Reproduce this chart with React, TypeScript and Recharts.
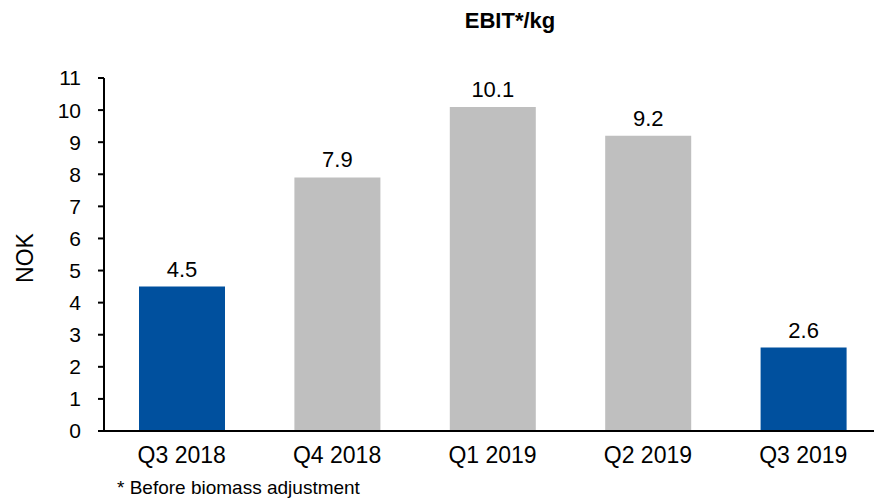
import { Bar, BarChart, Cell, LabelList, XAxis, YAxis } from "recharts";

const quarters = ["Q3 2018", "Q4 2018", "Q1 2019", "Q2 2019", "Q3 2019"];
const ebitPerKg = [4.5, 7.9, 10.1, 9.2, 2.6];
const barColors = ["#00509E", "#BFBFBF", "#BFBFBF", "#BFBFBF", "#00509E"];
const yTicks = [0, 1, 2, 3, 4, 5, 6, 7, 8, 9, 10, 11];

const data = quarters.map((q, i) => ({ quarter: q, value: ebitPerKg[i] }));

const font = "'Liberation Sans', Arial, sans-serif";

export default function App() {
  return (
    <div
      style={{
        position: "absolute",
        left: 0,
        top: 0,
        width: 874,
        height: 498,
        overflow: "hidden",
        background: "#fff",
        fontFamily: font,
      }}
    >
      <BarChart
        width={890}
        height={498}
        data={data}
        margin={{ top: 78, right: 9, bottom: 37, left: 44 }}
      >
        <text x={510} y={28} textAnchor="middle" fontSize={22} fontWeight="bold" fill="#000" fontFamily={font}>
          EBIT*/kg
        </text>
        <text
          x={33}
          y={258}
          textAnchor="middle"
          fontSize={23}
          fill="#000"
          fontFamily={font}
          transform="rotate(-90 33 258)"
        >
          NOK
        </text>
        <text x={117} y={494} fontSize={19} fill="#000" fontFamily={font}>
          * Before biomass adjustment
        </text>
        <XAxis
          dataKey="quarter"
          height={30}
          tickLine={false}
          tickSize={0}
          tickMargin={16}
          axisLine={{ stroke: "#000", strokeWidth: 2 }}
          tick={{ fontSize: 23, fill: "#000", fontFamily: font }}
        />
        <YAxis
          width={60}
          domain={[0, 11]}
          ticks={yTicks}
          interval={0}
          tickSize={6}
          tickMargin={17}
          axisLine={{ stroke: "#000", strokeWidth: 2 }}
          tickLine={{ stroke: "#000", strokeWidth: 2 }}
          tick={{ fontSize: 21, fill: "#000", fontFamily: font }}
        />
        <Bar dataKey="value" barSize={86} isAnimationActive={false}>
          {data.map((d, i) => (
            <Cell key={d.quarter} fill={barColors[i]} />
          ))}
          <LabelList
            dataKey="value"
            position="top"
            offset={10}
            formatter={(v: number) => v.toFixed(1)}
            style={{ fontSize: 22, fill: "#000", fontFamily: font }}
          />
        </Bar>
      </BarChart>
    </div>
  );
}
